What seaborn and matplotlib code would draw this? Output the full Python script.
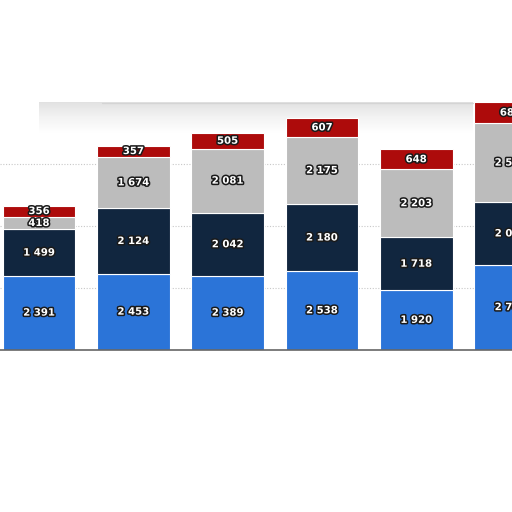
import numpy as np
import pandas as pd
import matplotlib
matplotlib.use('Agg')
import matplotlib.pyplot as plt
import matplotlib.patheffects as pe
import seaborn as sns

# inputs
periods = ['P1', 'P2', 'P3', 'P4', 'P5', 'P6']
series_names = ['s1', 's2', 's3', 's4']
s1 = [2391, 2453, 2389, 2538, 1920, 2745]
s2 = [1499, 2124, 2042, 2180, 1718, 2030]
s3 = [418, 1674, 2081, 2175, 2203, 2560]
s4 = [356, 357, 505, 607, 648, 684]
colors = ['#2b74d8', '#11263f', '#bcbcbc', '#ad0b0b']

# setup
sns.set_theme(style='white')
plt.rcParams['font.family'] = ['DejaVu Sans']
f = plt.figure(figsize=(5.12, 5.12), dpi=100)
ax = f.add_axes([0, 0, 1, 1])
ax.set_facecolor('white')

# faint shadow under the top frame line
grad = np.linspace(0.22, 0.0, 50).reshape(-1, 1)
ax.imshow(grad, extent=(0.0, 4.6, 7000, 8000), aspect='auto', cmap='Greys',
          vmin=0, vmax=1, alpha=0.9, zorder=0, interpolation='bilinear')

# gridlines
for g in [2000, 4000, 6000]:
    ax.axhline(g, color='#c8c8c8', lw=0.8, ls=(0, (1, 1.5)), zorder=1)
ax.axhline(8000, xmin=0.2, xmax=0.93, color='#d4d4d4', lw=0.9, zorder=1)

# stacked bars
bottom = [0] * len(periods)
for name, vals, c in zip(series_names, [s1, s2, s3, s4], colors):
    df = pd.DataFrame({'period': periods, 'value': vals})
    sns.barplot(data=df, x='period', y='value', color=c, bottom=bottom,
                width=0.77, saturation=1, edgecolor='white', linewidth=0.8,
                ax=ax, zorder=2)
    for i, v in enumerate(vals):
        ax.text(i, bottom[i] + v / 2, f'{v:,}'.replace(',', ' '),
                ha='center', va='center', color='white', fontsize=7.3,
                fontweight='bold', zorder=5,
                path_effects=[pe.withStroke(linewidth=2.2, foreground='#1a1a1a')])
    bottom = [b + v for b, v in zip(bottom, vals)]

# baseline
ax.axhline(0, color='#666666', lw=1.2, zorder=4)

ax.set_xlim(-0.414, 5.016)
ax.set_ylim(-5265, 11324)
ax.set_axis_off()
f.savefig('out.png', dpi=100)
